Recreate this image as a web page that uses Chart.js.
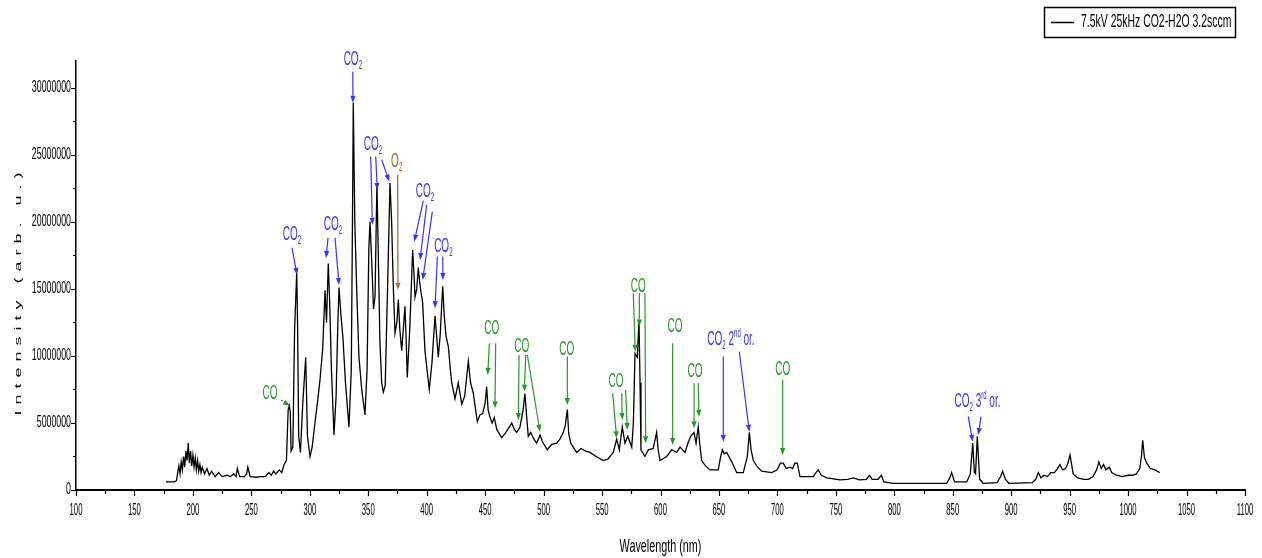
<!DOCTYPE html>
<html>
<head>
<meta charset="utf-8">
<script src="https://cdn.jsdelivr.net/npm/chart.js@4.4.1/dist/chart.umd.min.js"></script>
<style>
  html, body { margin: 0; padding: 0; background: #fff; }
</style>
</head>
<body>
<canvas id="graph" width="1262" height="558"></canvas>
<script>

// spectrum (nm / arb. u.)
var wavelength = [
    177, 184, 186, 187, 188, 189, 190, 191, 192, 193, 194, 195, 196, 197, 198, 199, 200, 201, 202, 203,
    204, 205, 206, 207, 208, 210, 212, 214, 216, 219, 222, 225, 229, 232, 235, 237, 238, 240, 244, 246,
    247, 249, 254, 258, 262, 265, 267, 269, 271, 274, 276, 278, 280, 281.5, 282.5, 283.3, 284, 285.5, 287, 288.8,
    289.5, 290.5, 292, 294, 296.5, 298, 300.2, 302, 304.4, 306.5, 308.7, 311, 313, 314.3, 315.8, 317, 318.5, 320.7, 322.5, 324,
    325, 326.5, 328.4, 330.5, 333.5, 335.5, 336.5, 337.2, 338.5, 340.1, 342, 344.4, 347.2, 349, 350.5, 351.5, 353, 354.5, 355.8, 357.4,
    358.5, 360, 361.5, 362.9, 364.5, 366.5, 368.6, 370, 371.5, 372.9, 374.5, 375.7, 377, 378.6, 380, 381.4, 382.5, 383.4, 385.5, 388,
    389.2, 390, 391.5, 392.8, 394, 394.9, 396.5, 398.5, 400.5, 402.2, 404.5, 407.1, 408.5, 409.9, 411.5, 413.7, 415, 416.5, 418.5, 420,
    421.4, 424.2, 427, 430, 432.5, 435.6, 437.5, 439.9, 443.3, 445.5, 447.9, 450, 451.3, 452.5, 454.2, 456, 457.8, 460, 464.2, 467,
    470, 472.7, 475, 477, 479.8, 482.5, 484, 485.5, 486.9, 489, 491, 494.1, 497, 499, 503.2, 507, 511.2, 514, 516.9, 518.5,
    520.3, 521.5, 523.2, 526, 528.3, 532, 536, 539.7, 545, 551, 555, 559.6, 562.5, 564.8, 567.3, 569.6, 572, 575.4, 576.8, 578.2,
    580.2, 581.6, 582.5, 583.3, 586.7, 589.6, 593.8, 596.7, 598, 599.6, 605.3, 609.6, 613.9, 616.7, 621, 623.5, 625.8, 628.7, 630.4, 632.3,
    633.5, 635.2, 638.5, 642.3, 649.4, 651.5, 652.9, 654.5, 656.6, 658.5, 660.9, 665.2, 670.8, 674.3, 676, 677.5, 679.4, 683, 686.6, 695.1,
    699.9, 702.5, 705, 707.5, 710.8, 713, 715, 717, 719.3, 730.7, 733, 735, 737.5, 742.2, 753.6, 760, 765, 770, 776, 779,
    781, 786, 789, 791, 799.1, 824.8, 844.8, 847.5, 849, 851.5, 862, 865, 867.1, 868.5, 869.5, 871, 873, 876, 888, 891,
    892.7, 895, 898, 918, 921, 923.2, 925.5, 928, 931, 934, 937, 939.5, 941.7, 944, 946.5, 948.5, 950.3, 951.5, 953, 957,
    962, 966, 970, 973, 975, 977, 979, 981, 984, 986, 990, 995, 1000, 1004, 1007, 1010, 1011.5, 1012.5, 1014, 1016,
    1019, 1023, 1027
];

var intensity = [
    600000, 600000, 700000, 1300000, 1800000, 1200000, 2100000, 1500000, 2500000, 1700000, 2900000, 2200000, 3500000, 2000000, 2900000, 1800000, 2600000, 1700000, 2400000, 1500000,
    2200000, 1400000, 1900000, 1300000, 1700000, 1200000, 1600000, 1100000, 1400000, 1000000, 1300000, 1000000, 1100000, 1000000, 1200000, 1000000, 1600000, 1000000, 1000000, 1200000,
    1700000, 1000000, 950000, 1000000, 1000000, 1300000, 1100000, 1400000, 1200000, 1500000, 1300000, 1900000, 2200000, 6000000, 6300000, 5800000, 2900000, 3200000, 12000000, 16200000,
    12700000, 4000000, 2800000, 6500000, 9900000, 4000000, 2500000, 3200000, 5000000, 6500000, 8200000, 10500000, 14900000, 12500000, 16900000, 14000000, 9000000, 4100000, 7000000, 12500000,
    15100000, 13200000, 11300000, 8000000, 4700000, 9000000, 20000000, 28900000, 20000000, 15000000, 10000000, 7500000, 5600000, 9000000, 18000000, 20000000, 17000000, 13500000, 14400000, 22900000,
    18000000, 11000000, 8000000, 7300000, 7800000, 15000000, 22900000, 20000000, 15000000, 11700000, 12500000, 14200000, 12000000, 10400000, 12000000, 13700000, 11000000, 8400000, 12000000, 17900000,
    16000000, 14400000, 15000000, 16600000, 15500000, 14900000, 14000000, 10400000, 8800000, 7500000, 9500000, 13000000, 11500000, 9900000, 11500000, 15200000, 13000000, 11500000, 10700000, 9200000,
    8000000, 6800000, 8000000, 6400000, 7000000, 9600000, 8000000, 7200000, 5100000, 5600000, 5700000, 6500000, 7700000, 6000000, 5400000, 5000000, 5400000, 4500000, 3900000, 4200000,
    4600000, 5000000, 4500000, 4300000, 4700000, 6000000, 7200000, 5500000, 4000000, 4300000, 3900000, 3500000, 4100000, 3600000, 3000000, 3400000, 3500000, 3800000, 4300000, 4800000,
    6000000, 4200000, 3500000, 3100000, 2800000, 3100000, 2900000, 2800000, 2500000, 2200000, 2300000, 2800000, 3800000, 3000000, 4700000, 3500000, 4000000, 3200000, 5000000, 10200000,
    9900000, 12700000, 8000000, 3000000, 2500000, 3000000, 3100000, 4300000, 3000000, 2200000, 2500000, 3000000, 2800000, 3200000, 2800000, 3500000, 4000000, 4300000, 3500000, 4700000,
    3500000, 2200000, 1800000, 1500000, 1500000, 2500000, 3000000, 2700000, 2800000, 2500000, 2100000, 1300000, 1300000, 2500000, 4300000, 3000000, 2200000, 1700000, 1400000, 1300000,
    1500000, 2000000, 2000000, 1600000, 1700000, 1600000, 2000000, 2000000, 1000000, 1000000, 1300000, 1500000, 1100000, 900000, 750000, 800000, 900000, 750000, 800000, 1100000,
    800000, 800000, 1100000, 600000, 500000, 500000, 500000, 900000, 1300000, 600000, 600000, 1200000, 3500000, 1300000, 1200000, 4000000, 800000, 500000, 550000, 1000000,
    1400000, 800000, 500000, 550000, 800000, 1300000, 900000, 1100000, 1000000, 1300000, 1300000, 1600000, 1900000, 1500000, 1600000, 2000000, 2600000, 2000000, 1200000, 900000,
    800000, 800000, 1000000, 1500000, 2100000, 1600000, 1900000, 1500000, 1700000, 1300000, 1100000, 1000000, 1100000, 1100000, 1200000, 1600000, 2600000, 3700000, 2400000, 2000000,
    1600000, 1500000, 1300000
];

var xTickLabels = [100, 150, 200, 250, 300, 350, 400, 450, 500, 550, 600, 650, 700, 750, 800, 850, 900, 950, 1000, 1050, 1100];
var yTickLabels = [0, 5000000, 10000000, 15000000, 20000000, 25000000, 30000000];

var seriesName = '7.5kV 25kHz CO2-H2O 3.2sccm';
var xTitle = 'Wavelength (nm)';
var yTitle = 'Intensity (arb. u.)';

// peak labels: text parts, colour, where the text sits and where each arrow goes (nm, intensity)
var BLUE = '#3434ff', GREEN = '#2a962a', BROWN = '#a0662e';
var CO2 = [['CO'], ['2', 'sub']];
var CO = [['CO']];
var peakLabels = [
    { parts: CO, color: GREEN, at: [266, 7300000], dashed: true, arrows: [[275.4, 6720000, 283.1, 6270000]] },
    { parts: CO2, color: BLUE, at: [284.8, 19180000], arrows: [[284.8, 18060000, 289.1, 16040000]] },
    { parts: CO2, color: BLUE, at: [319.8, 19930000], arrows: [[315.6, 18810000, 313.9, 17310000], [321.6, 18810000, 325.0, 15300000]] },
    { parts: CO2, color: BLUE, at: [336.8, 32240000], arrows: [[336.8, 31190000, 336.9, 28880000]] },
    { parts: CO2, color: BLUE, at: [354.1, 25900000], arrows: [[352.1, 24870000, 353.5, 19780000], [356.4, 24870000, 357.7, 22390000], [361.5, 24630000, 368.0, 23010000]] },
    { parts: [['O'], ['2', 'sub']], color: BROWN, at: [374.3, 24630000], arrows: [[375.2, 23510000, 375.4, 14930000]] },
    { parts: CO2, color: BLUE, at: [398.5, 22390000], arrows: [[397.1, 21590000, 389.4, 18530000], [400.0, 21270000, 394.3, 17160000], [404.8, 20770000, 396.6, 15670000]] },
    { parts: CO2, color: BLUE, at: [414.2, 18280000], arrows: [[409.1, 17410000, 407.1, 13560000], [413.7, 17410000, 413.9, 15670000]] },
    { parts: CO, color: GREEN, at: [455.6, 12190000], arrows: [[453.6, 10950000, 452.2, 8580000], [459.0, 10950000, 458.4, 6100000]] },
    { parts: CO, color: GREEN, at: [481.3, 10820000], arrows: [[479.0, 10070000, 478.4, 5220000], [484.7, 10070000, 483.5, 7340000], [486.1, 10070000, 496.9, 4350000]] },
    { parts: CO, color: GREEN, at: [519.8, 10570000], arrows: [[520.3, 9950000, 520.3, 6340000]] },
    { parts: CO, color: GREEN, at: [561.9, 8210000], arrows: [[559.1, 7220000, 562.5, 3860000], [566.8, 7220000, 567.3, 5220000], [570.2, 7460000, 571.6, 4480000]] },
    { parts: CO, color: GREEN, at: [581.0, 15300000], arrows: [[576.7, 14680000, 578.4, 10320000], [581.9, 14680000, 581.9, 12190000], [586.7, 14680000, 587.3, 3490000]] },
    { parts: CO, color: GREEN, at: [612.4, 12310000], arrows: [[610.4, 10950000, 610.4, 3360000]] },
    { parts: CO, color: GREEN, at: [629.5, 8960000], arrows: [[628.7, 7960000, 628.7, 4600000], [632.3, 7960000, 632.9, 5470000]] },
    { parts: [['CO'], ['2', 'sub'], [' 2'], ['nd', 'sup'], [' or.']], color: BLUE, at: [660.3, 11340000], arrows: [[653.7, 9950000, 653.7, 3600000], [667.4, 10320000, 676.0, 4350000]] },
    { parts: CO, color: GREEN, at: [704.5, 9080000], arrows: [[704.5, 8210000, 704.5, 2610000]] },
    { parts: [['CO'], ['2', 'sub'], [' 3'], ['rd', 'sup'], [' or.']], color: BLUE, at: [871.2, 6720000], arrows: [[863.3, 5470000, 867.1, 3600000], [874.2, 5470000, 871.8, 4100000]] }
];

var FONT = '"Liberation Sans", Arial, sans-serif';

// the reference text is squeezed sideways, so draw it scaled
function squeezedText(ctx, text, x, y, size, sx, align) {
    ctx.save();
    ctx.translate(x, y);
    ctx.scale(sx, 1);
    ctx.font = size + 'px ' + FONT;
    ctx.textAlign = align || 'center';
    ctx.textBaseline = 'middle';
    ctx.fillText(text, 0, 0);
    ctx.restore();
}

function drawArrow(ctx, x1, y1, x2, y2, color, dashed) {
    var a = Math.atan2(y2 - y1, x2 - x1);
    var len = 7, w = 2.6;
    var bx = x2 - len * Math.cos(a), by = y2 - len * Math.sin(a);
    ctx.save();
    ctx.strokeStyle = color;
    ctx.fillStyle = color;
    ctx.lineWidth = 1.2;
    if (dashed) ctx.setLineDash([2, 2]);
    ctx.beginPath();
    ctx.moveTo(x1, y1);
    ctx.lineTo(bx, by);
    ctx.stroke();
    ctx.setLineDash([]);
    ctx.beginPath();
    ctx.moveTo(x2, y2);
    ctx.lineTo(bx + w * Math.sin(a), by - w * Math.cos(a));
    ctx.lineTo(bx - w * Math.sin(a), by + w * Math.cos(a));
    ctx.closePath();
    ctx.fill();
    ctx.restore();
}

function drawLabel(ctx, label, xs, ys) {
    var SX = 0.5, big = 20, small = 12;
    var cx = xs.getPixelForValue(label.at[0]);
    var cy = ys.getPixelForValue(label.at[1]);
    var widths = label.parts.map(function (p) {
        ctx.font = (p[1] ? small : big) + 'px ' + FONT;
        return ctx.measureText(p[0]).width * SX;
    });
    var total = widths.reduce(function (s, w) { return s + w; }, 0);
    var x = cx - total / 2;
    var base = cy + 7;
    ctx.save();
    ctx.fillStyle = label.color;
    label.parts.forEach(function (p, i) {
        ctx.save();
        var by = base;
        if (p[1] === 'sub') by = base + 4;
        if (p[1] === 'sup') by = base - 8;
        ctx.translate(x, by);
        ctx.scale(SX, 1);
        ctx.font = (p[1] ? small : big) + 'px ' + FONT;
        ctx.textAlign = 'left';
        ctx.textBaseline = 'alphabetic';
        ctx.fillText(p[0], 0, 0);
        ctx.restore();
        x += widths[i];
    });
    ctx.restore();
    label.arrows.forEach(function (a) {
        drawArrow(ctx, xs.getPixelForValue(a[0]), ys.getPixelForValue(a[1]),
            xs.getPixelForValue(a[2]), ys.getPixelForValue(a[3]), label.color, label.dashed);
    });
}

var decor = {
    id: 'decor',
    afterDraw: function (chart) {
        var ctx = chart.ctx;
        var xs = chart.scales.x, ys = chart.scales.y;
        var area = chart.chartArea;
        ctx.save();
        ctx.strokeStyle = '#000';
        ctx.fillStyle = '#000';
        ctx.lineWidth = 1.2;

        // tick marks, major and minor
        ctx.beginPath();
        xTickLabels.forEach(function (v, i) {
            var px = Math.round(xs.getPixelForValue(v)) + 0.5;
            ctx.moveTo(px, area.bottom); ctx.lineTo(px, area.bottom + 6);
            if (i < xTickLabels.length - 1) {
                var mx = Math.round(xs.getPixelForValue((v + xTickLabels[i + 1]) / 2)) + 0.5;
                ctx.moveTo(mx, area.bottom); ctx.lineTo(mx, area.bottom + 4);
            }
        });
        yTickLabels.forEach(function (v, i) {
            var py = Math.round(ys.getPixelForValue(v)) + 0.5;
            ctx.moveTo(area.left, py); ctx.lineTo(area.left - 5, py);
            var next = i < yTickLabels.length - 1 ? yTickLabels[i + 1] : null;
            if (next !== null) {
                var my = Math.round(ys.getPixelForValue((v + next) / 2)) + 0.5;
                ctx.moveTo(area.left, my); ctx.lineTo(area.left - 3, my);
            }
        });
        ctx.stroke();

        // tick labels
        xTickLabels.forEach(function (v) {
            squeezedText(ctx, String(v), xs.getPixelForValue(v), 511, 16, 0.48, 'center');
        });
        yTickLabels.forEach(function (v) {
            squeezedText(ctx, String(v), 71, ys.getPixelForValue(v), 16, 0.55, 'right');
        });

        // axis titles
        squeezedText(ctx, xTitle, (area.left + area.right) / 2, 547, 18, 0.6, 'center');
        ctx.save();
        ctx.translate(18, 291);
        ctx.rotate(-Math.PI / 2);
        ctx.scale(1, 0.55);
        ctx.font = '18px ' + FONT;
        ctx.letterSpacing = '6px';
        ctx.textAlign = 'center';
        ctx.textBaseline = 'middle';
        ctx.fillText(yTitle, 0, 0);
        ctx.restore();

        // legend box
        ctx.lineWidth = 1.5;
        ctx.strokeRect(1044.5, 7.5, 191, 30);
        ctx.beginPath();
        ctx.moveTo(1051, 22.5); ctx.lineTo(1074, 22.5);
        ctx.stroke();
        squeezedText(ctx, seriesName, 1081, 22, 19, 0.55, 'left');
        ctx.restore();

        peakLabels.forEach(function (l) { drawLabel(ctx, l, xs, ys); });
    }
};

var points = wavelength.map(function (w, i) { return { x: w, y: intensity[i] }; });

var context = document.querySelector('#graph').getContext('2d');

var chart = new Chart(context, {
    type: 'line',
    data: {
        datasets: [{
            label: seriesName,
            data: points,
            borderColor: '#000',
            borderWidth: 1.3,
            pointRadius: 0,
            tension: 0,
            fill: false
        }]
    },
    options: {
        responsive: false,
        animation: false,
        layout: { padding: { left: 0, right: 17, top: 61, bottom: 0 } },
        plugins: {
            legend: { display: false },
            tooltip: { enabled: false }
        },
        scales: {
            x: {
                type: 'linear',
                min: 100,
                max: 1100,
                ticks: { display: false },
                grid: { display: false },
                border: { color: '#000', width: 2 },
                afterFit: function (s) { s.height = 68; }
            },
            y: {
                min: 0,
                max: 32000000,
                ticks: { display: false },
                grid: { display: false },
                border: { color: '#000', width: 1.5 },
                afterFit: function (s) { s.width = 76; }
            }
        }
    },
    plugins: [decor]
});
</script>
</body>
</html>
